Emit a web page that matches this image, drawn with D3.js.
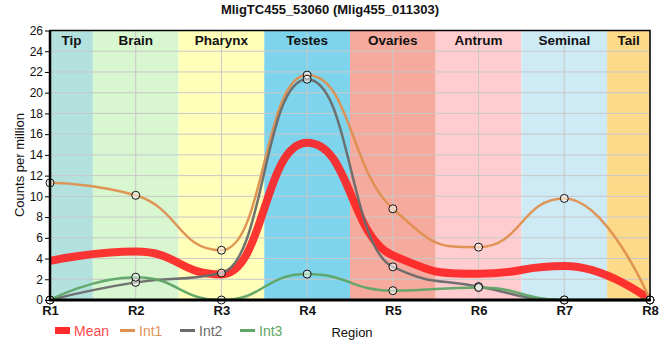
<!DOCTYPE html>
<html><head><meta charset="utf-8">
<script src="https://cdn.jsdelivr.net/npm/d3@7"></script>
<style>body{margin:0;background:#fff}svg{display:block}text{font-family:"Liberation Sans",Arial,sans-serif}</style>
</head><body><svg id="c" width="660" height="360"></svg>
<script>
const positions = ["R1","R2","R3","R4","R5","R6","R7","R8"];
const regions = ["Tip","Brain","Pharynx","Testes","Ovaries","Antrum","Seminal","Tail"];
const regionColors = ["#b3e2de","#d8f6d0","#ffffb9","#7ed4ec","#f5aa9d","#ffcdcf","#cdeaf5","#fdd98a"];
const int1 = [11.3,10.1,4.8,21.7,8.8,5.1,9.8,0];
const int2 = [0,1.7,2.6,21.3,3.2,1.3,0,0];
const int3 = [0,2.2,0,2.5,0.9,1.2,0,0];
const mean = [3.77,4.67,2.47,15.17,4.3,2.53,3.27,0];
const yTicks = [0,2,4,6,8,10,12,14,16,18,20,22,24,26];

// smoothing spline curve (control points half-way toward neighbours, no overshoot)
function SmoothSpline(context){ this._context = context; }
SmoothSpline.prototype = {
  areaStart(){ this._line = 0; }, areaEnd(){ this._line = NaN; },
  lineStart(){ this._x = []; this._y = []; },
  point(x,y){ this._x.push(+x); this._y.push(+y); },
  lineEnd(){
    const X=this._x, Y=this._y, n=X.length, c=this._context;
    if(!n) return;
    const s=1.0, den=s+1;
    const lc=[], rc=[];
    for(let i=0;i<n;i++){
      if(i===0||i===n-1){ lc[i]=[X[i],Y[i]]; rc[i]=[X[i],Y[i]]; continue; }
      const px=X[i],py=Y[i],lx=X[i-1],ly=Y[i-1],nx=X[i+1],ny=Y[i+1];
      let lcx=(s*px+lx)/den, lcy=(s*py+ly)/den, rcx=(s*px+nx)/den, rcy=(s*py+ny)/den;
      let corr=0;
      if(rcx!==lcx) corr=((rcy-lcy)*(rcx-px))/(rcx-lcx)+py-rcy;
      lcy+=corr; rcy+=corr;
      if(lcy>ly&&lcy>py){ lcy=Math.max(ly,py); rcy=2*py-lcy; }
      else if(lcy<ly&&lcy<py){ lcy=Math.min(ly,py); rcy=2*py-lcy; }
      if(rcy>ny&&rcy>py){ rcy=Math.max(ny,py); lcy=2*py-rcy; }
      else if(rcy<ny&&rcy<py){ rcy=Math.min(ny,py); lcy=2*py-rcy; }
      lc[i]=[lcx,lcy]; rc[i]=[rcx,rcy];
    }
    c.moveTo(X[0],Y[0]);
    for(let i=1;i<n;i++) c.bezierCurveTo(rc[i-1][0],rc[i-1][1],lc[i][0],lc[i][1],X[i],Y[i]);
  }
};
const curveSmooth = ctx => new SmoothSpline(ctx);

const svg = d3.select("#c");
const L=50,R=650,T=30.5,B=300;
const x = d3.scalePoint().domain(positions).range([L,R]);
const y = d3.scaleLinear().domain([0,26]).range([B,T]);
const step = x.step();
const bandX = i => { const xc=x(positions[i]); return [i===0?L:xc-step/2, i===regions.length-1?R:xc+step/2]; };

const bands = svg.append("g");
regions.forEach((r,i)=>{
  const [a,b]=bandX(i);
  bands.append("rect").attr("x",a).attr("y",T).attr("width",b-a).attr("height",B-T).attr("fill",regionColors[i]);
});
const grid = svg.append("g").attr("stroke","#c8c8c8").attr("stroke-width",1);
yTicks.forEach(t=>grid.append("line").attr("x1",L).attr("x2",R).attr("y1",y(t)).attr("y2",y(t)));
positions.forEach(p=>grid.append("line").attr("x1",x(p)).attr("x2",x(p)).attr("y1",T).attr("y2",B));
regions.forEach((r,i)=>{
  const [a,b]=bandX(i);
  svg.append("text").attr("x",(a+b)/2).attr("y",45).attr("text-anchor","middle")
    .attr("font-size",13.5).attr("font-weight","bold").attr("fill","#111").text(r);
});

const line = d3.line().x((d,i)=>x(positions[i])).y(d=>y(d)).curve(curveSmooth);
const series = [
  {name:"Int1",vals:int1,color:"#df8f4f",w:2.5},
  {name:"Int2",vals:int2,color:"#6a6a6a",w:2.5},
  {name:"Int3",vals:int3,color:"#5ea566",w:2.5}
];
svg.append("path").attr("d",line(mean)).attr("fill","none").attr("stroke","#ff2020").attr("stroke-opacity",0.9).attr("stroke-width",8);
series.forEach(s=>{
  svg.append("path").attr("d",line(s.vals)).attr("fill","none").attr("stroke",s.color).attr("stroke-width",s.w).attr("stroke-opacity",0.95);
});
series.forEach(s=>{
  s.vals.forEach((v,i)=>{
    svg.append("circle").attr("cx",x(positions[i])).attr("cy",y(v)).attr("r",4)
      .attr("fill","#fff").attr("fill-opacity",0.55).attr("stroke","#111").attr("stroke-width",1);
  });
});

svg.append("rect").attr("x",L).attr("y",T).attr("width",R-L).attr("height",B-T).attr("fill","none").attr("stroke","#000").attr("stroke-width",1.5);
svg.append("line").attr("x1",L).attr("x2",L).attr("y1",T).attr("y2",B).attr("stroke","#000").attr("stroke-width",2.5);
svg.append("line").attr("x1",L-1).attr("x2",R+1).attr("y1",B).attr("y2",B).attr("stroke","#000").attr("stroke-width",3);

const ya = svg.append("g").attr("transform",`translate(${L},0)`).call(d3.axisLeft(y).tickValues(yTicks).tickSize(5).tickFormat(d3.format("d")));
ya.select(".domain").remove();
ya.selectAll("text").attr("font-size",12).attr("fill","#111").attr("dx",1);
ya.selectAll("line").attr("stroke","#000");
const xa = svg.append("g").attr("transform",`translate(0,${B})`).call(d3.axisBottom(x).tickSize(0));
xa.select(".domain").remove();
xa.selectAll("text").attr("font-size",13).attr("font-weight","bold").attr("fill","#111").attr("dy","0.95em");

svg.append("text").attr("transform","translate(24,165) rotate(-90)").attr("text-anchor","middle").attr("font-size",13).attr("fill","#111").text("Counts per million");
svg.append("text").attr("x",330).attr("y",14).attr("text-anchor","middle").attr("font-size",13).attr("font-weight","bold").attr("fill","#111").text("MligTC455_53060 (Mlig455_011303)");
svg.append("text").attr("x",352).attr("y",337).attr("text-anchor","middle").attr("font-size",13).attr("fill","#111").text("Region");

const leg = [
  {name:"Mean",color:"#ff2a2a",text:"#ff4a4a",rect:true,x:55},
  {name:"Int1",color:"#df8f4f",text:"#e0955a",x:120},
  {name:"Int2",color:"#6a6a6a",text:"#6a6a6a",x:180},
  {name:"Int3",color:"#5ea566",text:"#5ea566",x:240}
];
leg.forEach(l=>{
  if(l.rect) svg.append("rect").attr("x",l.x).attr("y",327).attr("width",15).attr("height",7).attr("fill",l.color);
  else svg.append("line").attr("x1",l.x).attr("x2",l.x+15).attr("y1",330.5).attr("y2",330.5).attr("stroke",l.color).attr("stroke-width",3);
  svg.append("text").attr("x",l.x+19).attr("y",335.5).attr("font-size",14).attr("fill",l.text).text(l.name);
});
</script></body></html>
